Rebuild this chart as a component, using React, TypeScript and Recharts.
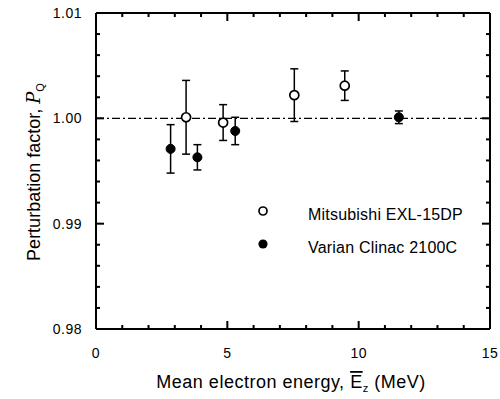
import { ScatterChart, Scatter, XAxis, YAxis, ErrorBar, ReferenceLine } from 'recharts';

const mitsubishiEnergy = [3.43, 4.84, 7.55, 9.47];
const mitsubishiFactor = [1.0001, 0.9996, 1.0022, 1.0031];
const mitsubishiError = [0.0035, 0.0017, 0.0025, 0.0014];

const varianEnergy = [2.84, 3.86, 5.3, 11.53];
const varianFactor = [0.9971, 0.9963, 0.9988, 1.0001];
const varianError = [0.0023, 0.0012, 0.0013, 0.0006];

const xTicks = [0, 1, 2, 3, 4, 5, 6, 7, 8, 9, 10, 11, 12, 13, 14, 15];
const xLabels = [0, 5, 10, 15];
const yTicks = [0.98, 0.982, 0.984, 0.986, 0.988, 0.99, 0.992, 0.994, 0.996, 0.998, 1.0, 1.002, 1.004, 1.006, 1.008, 1.01];
const yLabels = ['0.98', '0.99', '1.00', '1.01'];

const mitsubishi = mitsubishiEnergy.map((e, i) => ({ x: e, y: mitsubishiFactor[i], err: mitsubishiError[i] }));
const varian = varianEnergy.map((e, i) => ({ x: e, y: varianFactor[i], err: varianError[i] }));

const W = 500;
const H = 399;
const yAxisWidth = 96;
const xAxisHeight = 40;
const margin = { top: 13, right: 10, bottom: 30, left: 0 };
const plotTop = margin.top;
const plotRight = W - margin.right;
const plotBottom = H - margin.bottom - xAxisHeight;
const plotLeft = yAxisWidth;

const font = '"Liberation Sans", Arial, sans-serif';

const isMajorY = (v: number) => yLabels.includes(v.toFixed(2)) && Math.abs(v * 100 - Math.round(v * 100)) < 1e-6;
const isMajorX = (v: number) => xLabels.includes(v);

const YTitle = () => {
    const cx = 40;
    const cy = (plotTop + plotBottom) / 2 + 1;
    return (
        <text x={cx} y={cy} transform={`rotate(-90 ${cx} ${cy})`} textAnchor='middle' fontSize={18} fontFamily={font} fill='#000'>
            Perturbation factor, <tspan fontStyle='italic' fontFamily='"DejaVu Serif", serif'>P</tspan>
            <tspan fontSize={11} dy={4}>Q</tspan>
        </text>
    );
};

const XTitle = () => (
    <text x={(plotLeft + plotRight) / 2 - 2} y={plotBottom + 59} textAnchor='middle' fontSize={18} letterSpacing={0.5} fontFamily={font} fill='#000'>
        Mean electron energy, <tspan style={{ textDecoration: 'overline' }}>E</tspan>
        <tspan fontSize={11} dy={4}>z</tspan>
        <tspan dy={-4}> (MeV)</tspan>
    </text>
);

const LegendBox = () => (
    <g>
        <circle cx={263} cy={211} r={4} fill='#fff' stroke='#000' strokeWidth={1.7} />
        <text x={308} y={220} fontSize={16} letterSpacing={0.2} fontFamily={font} fill='#000'>Mitsubishi EXL-15DP</text>
        <circle cx={263} cy={244} r={4.6} fill='#000' />
        <text x={308} y={253} fontSize={16} letterSpacing={0.2} fontFamily={font} fill='#000'>Varian Clinac 2100C</text>
    </g>
);

// left ticks + labels, mirrored inward ticks on the right frame (drawn as filled rects)
const LeftTick = (p: any) => {
    const v = p.payload.value;
    const len = isMajorY(v) ? 8 : 4;
    const ax = p.x + 14;
    return (
        <g>
            <rect x={ax} y={p.y - 1} width={len} height={2} fill='#000' stroke='none' />
            <rect x={plotRight - len} y={p.y - 1} width={len} height={2} fill='#000' stroke='none' />
            {isMajorY(v) && (
                <text x={p.x} y={p.y + 5} textAnchor='end' fontSize={14} letterSpacing={0.5} fontFamily={font} fill='#000'>
                    {v.toFixed(2)}
                </text>
            )}
            {p.index === 0 && <YTitle />}
        </g>
    );
};

// bottom ticks + labels, mirrored inward ticks on the top frame
const BottomTick = (p: any) => {
    const v = p.payload.value;
    const len = isMajorX(v) ? 8 : 4;
    return (
        <g>
            <rect x={p.x - 1} y={p.y - len} width={2} height={len} fill='#000' stroke='none' />
            <rect x={p.x - 1} y={plotTop} width={2} height={len} fill='#000' stroke='none' />
            {isMajorX(v) && (
                <text x={p.x} y={p.y + 29} textAnchor='middle' fontSize={14} letterSpacing={0.5} fontFamily={font} fill='#000'>
                    {v}
                </text>
            )}
            {p.index === 0 && <XTitle />}
            {p.index === 0 && <LegendBox />}
        </g>
    );
};

const App = () => {
    return (
        <div style={{ width: W, height: H }}>
            <style>{'body{margin:0}'}</style>
            <ScatterChart width={W} height={H} margin={margin}>
                <XAxis
                    type='number'
                    dataKey='x'
                    domain={[0, 15]}
                    ticks={xTicks}
                    interval={0}
                    tickSize={0}
                    tickMargin={0}
                    tickLine={false}
                    height={xAxisHeight}
                    stroke='#000'
                    axisLine={{ stroke: '#000', strokeWidth: 2 }}
                    tick={(p: any) => <BottomTick {...p} />}
                />
                <YAxis
                    type='number'
                    dataKey='y'
                    domain={[0.98, 1.01]}
                    ticks={yTicks}
                    interval={0}
                    tickSize={0}
                    tickMargin={14}
                    tickLine={false}
                    width={yAxisWidth}
                    stroke='#000'
                    axisLine={{ stroke: '#000', strokeWidth: 2 }}
                    tick={(p: any) => <LeftTick {...p} />}
                />
                <ReferenceLine y={1.01} stroke='#000' strokeWidth={2} ifOverflow='visible' />
                <ReferenceLine x={15} stroke='#000' strokeWidth={2} ifOverflow='visible' />
                <ReferenceLine y={1.0} stroke='#000' strokeWidth={1.1} strokeDasharray='8 3 2 3' />
                <Scatter data={varian} fill='#000' stroke='#000' isAnimationActive={false}>
                    <ErrorBar dataKey='err' direction='y' width={4} stroke='#000' strokeWidth={1.5} isAnimationActive={false} />
                </Scatter>
                <Scatter data={mitsubishi} fill='#fff' stroke='#000' strokeWidth={1.7} isAnimationActive={false}>
                    <ErrorBar dataKey='err' direction='y' width={4} stroke='#000' strokeWidth={1.5} isAnimationActive={false} />
                </Scatter>
            </ScatterChart>
        </div>
    );
};

export default App;
